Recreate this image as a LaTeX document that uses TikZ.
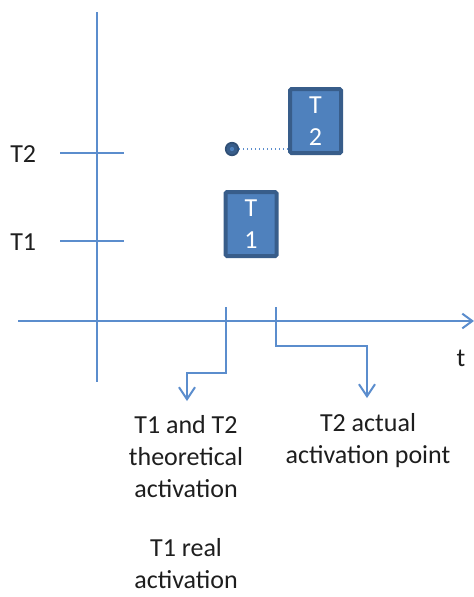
\documentclass[tikz,border=0pt]{standalone}
\usepackage{fontspec}
\setmainfont{Carlito}
\usetikzlibrary{arrows.meta}
\definecolor{axisblue}{RGB}{91,141,205}
\definecolor{boxfill}{RGB}{79,129,189}
\definecolor{boxedge}{RGB}{56,93,138}
\definecolor{txt}{RGB}{30,30,30}
\begin{document}
\begin{tikzpicture}[x=0.75pt,y=-0.75pt,
  axis/.style={draw=axisblue,line width=1.5pt},
  pointer/.style={draw=axisblue,line width=1.5pt,-{Straight Barb[length=9pt,width=12pt,line width=1.5pt]}},
  taskbox/.style={draw=boxedge,fill=boxfill,line width=3pt,rounded corners=1pt,
    minimum width=38.25pt,minimum height=48pt,inner sep=0pt,align=center,
    text=white,font=\fontsize{19.5}{24}\selectfont},
  label/.style={text=txt,inner sep=0pt,align=center,font=\fontsize{19.5}{24}\selectfont}]
\useasboundingbox (0,0) rectangle (474,597);

% axes
\coordinate (yTop) at (97,12);
\coordinate (yBot) at (97,382);
\coordinate (xL) at (18,321);
\coordinate (xR) at (474,321);
\draw[axis] (yTop) -- (yBot);
\draw[axis,-{Straight Barb[length=7.5pt,width=11pt,line width=1.5pt]}] (xL) -- (xR);

% level ticks and labels
\coordinate (t2a) at (60,153); \coordinate (t2b) at (124,153);
\coordinate (t1a) at (60,241); \coordinate (t1b) at (124,241);
\draw[axis] (t2a) -- (t2b);
\draw[axis] (t1a) -- (t1b);
\node[label,anchor=base west] (lT2) at (10,162) {T2};
\node[label,anchor=base west] (lT1) at (10,250) {T1};
\node[label,anchor=base] (lt) at (461,366) {t};

% tasks
\node[taskbox] (task2) at (315.5,121) {T\\2};
\node[taskbox] (task1) at (251,224) {T\\1};
\node[circle,fill=boxedge,draw=boxedge!85!black,line width=1.2pt,minimum size=9.5pt,inner sep=0pt] (dot) at (232,149) {};
\fill[boxfill] (dot) circle (1.6pt);
\draw[axisblue,line width=1pt,dotted] (dot.east) -- (dot.east -| task2.west);

% activation markers
\coordinate (m1a) at (226,307); \coordinate (m1b) at (226,373);
\coordinate (m1c) at (187,373); \coordinate (m1d) at (187,401);
\draw[pointer] (m1a) -- (m1b) -- (m1c) -- (m1d);
\coordinate (m2a) at (276,307); \coordinate (m2b) at (276,346);
\coordinate (m2c) at (367,346); \coordinate (m2d) at (367,398);
\draw[pointer] (m2a) -- (m2b) -- (m2c) -- (m2d);

% descriptions
\node[label,anchor=north] (theo) at (186,415) {T1 and T2\\theoretical\\activation};
\node[label,anchor=north] (real) at (186,538) {T1 real\\activation};
\node[label,anchor=north] (act) at (368,413) {T2 actual\\activation point};
\end{tikzpicture}
\end{document}
